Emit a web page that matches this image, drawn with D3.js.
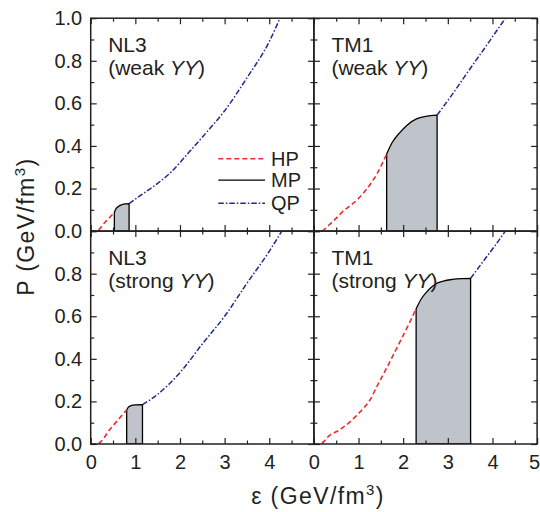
<!DOCTYPE html>
<html>
<head>
<meta charset="utf-8">
<script src="https://cdn.jsdelivr.net/npm/d3@7"></script>
<style>
  body { margin: 0; background: #fff; }
  svg { display: block; }
  text { font-family: "Liberation Sans", Arial, Helvetica, sans-serif; fill: #231f20; }
</style>
</head>
<body>
<svg id="chart" width="540" height="512"></svg>
<script>
// ---- axis ticks ----
const xMajor = [0, 1, 2, 3, 4, 5];
const xMinor = [0.5, 1.5, 2.5, 3.5, 4.5];
const yMajor = [0, 0.2, 0.4, 0.6, 0.8, 1.0];
const yMinor = [0.1, 0.3, 0.5, 0.7, 0.9];

// ---- panel captions ----
const panelModels = ["NL3", "TM1", "NL3", "TM1"];
const panelCouplings = ["weak", "weak", "strong", "strong"];

// ---- legend ----
const phaseNames = ["HP", "MP", "QP"];

// ---- equation of state, [epsilon (GeV/fm^3), P (GeV/fm^3)] ----
// NL3, weak YY
const nl3WeakHP = [[0, 0], [0.13, 0], [0.3, 0.037], [0.53, 0.087]];
const nl3WeakMP = [[0.53, 0.087], [0.56, 0.103], [0.62, 0.116], [0.7, 0.124], [0.78, 0.128], [0.86, 0.129]];
const nl3WeakQP = [[0.86, 0.129], [1.1, 0.165], [1.44, 0.215], [1.8, 0.277], [2.2, 0.37], [2.6, 0.465], [3.0, 0.565], [3.5, 0.72], [4.0, 0.89], [4.24, 1.0]];
// TM1, weak YY
const tm1WeakHP = [[0, 0], [0.135, 0], [0.43, 0.047], [0.66, 0.094], [0.96, 0.145], [1.18, 0.197], [1.41, 0.268], [1.63, 0.362]];
const tm1WeakMP = [[1.63, 0.362], [1.75, 0.415], [1.93, 0.464], [2.1, 0.5], [2.31, 0.528], [2.5, 0.539], [2.76, 0.545]];
const tm1WeakQP = [[2.76, 0.545], [3.1, 0.642], [3.43, 0.742], [3.8, 0.852], [4.29, 1.0]];
// NL3, strong YY
const nl3StrongHP = [[0, 0], [0.13, 0], [0.47, 0.079], [0.806, 0.16]];
const nl3StrongMP = [[0.806, 0.16], [0.84, 0.172], [0.9, 0.18], [1.0, 0.184], [1.16, 0.185]];
const nl3StrongQP = [[1.16, 0.185], [1.48, 0.23], [2.04, 0.345], [2.5, 0.47], [3.0, 0.6], [3.5, 0.755], [4.0, 0.905], [4.28, 1.0]];
// TM1, strong YY
const tm1StrongHP = [[0, 0], [0.135, 0], [0.36, 0.042], [0.55, 0.063], [0.73, 0.09], [0.92, 0.126], [1.11, 0.168], [1.26, 0.208], [1.41, 0.27], [1.63, 0.357], [1.82, 0.435], [2.01, 0.514], [2.16, 0.577], [2.29, 0.635]];
const tm1StrongMP = [[2.29, 0.635], [2.4, 0.68], [2.55, 0.72], [2.7, 0.748], [2.9, 0.765], [3.1, 0.773], [3.3, 0.777], [3.51, 0.778]];
const tm1StrongQP = [[3.51, 0.778], [3.8, 0.86], [4.05, 0.93], [4.29, 1.0]];

const panelCurves = [
  { hp: nl3WeakHP, mp: nl3WeakMP, qp: nl3WeakQP },
  { hp: tm1WeakHP, mp: tm1WeakMP, qp: tm1WeakQP },
  { hp: nl3StrongHP, mp: nl3StrongMP, qp: nl3StrongQP },
  { hp: tm1StrongHP, mp: tm1StrongMP, qp: tm1StrongQP }
];

// ---- layout ----
const plotLeft = 90.7, plotTop = 18.2, panelW = 223.2, panelH = 212.9;
const ink = "#231f20";
const red = "#ee2a2e", blue = "#1f2b8e", mpFill = "#bfc3ca";
const hpDash = "5,3", qpDash = "5.5,2,1.5,2";
const tickFont = 20;

const svg = d3.select("#chart");

const x = d3.scaleLinear().domain([0, 5]).range([0, panelW]);
const y = d3.scaleLinear().domain([0, 1]).range([panelH, 0]);

const line = d3.line().x(d => x(d[0])).y(d => y(d[1])).curve(d3.curveMonotoneX);
const area = d3.area().x(d => x(d[0])).y0(y(0)).y1(d => y(d[1])).curve(d3.curveMonotoneX);

const defs = svg.append("defs");
defs.append("clipPath").attr("id", "panel-clip")
  .append("rect").attr("x", 0).attr("y", 0).attr("width", panelW).attr("height", panelH);

function styleAxis(g) {
  g.select(".domain").remove();
  g.attr("font-family", null).attr("font-size", tickFont).attr("color", ink);
  g.selectAll(".tick line").attr("stroke-width", 1.2);
}

panelCurves.forEach((c, i) => {
  const col = i % 2, row = Math.floor(i / 2);
  const g = svg.append("g")
    .attr("transform", `translate(${plotLeft + col * panelW},${plotTop + row * panelH})`);

  // curves
  const plot = g.append("g").attr("clip-path", "url(#panel-clip)");
  plot.append("path").datum(c.mp).attr("d", area)
    .attr("fill", mpFill).attr("stroke", "#000").attr("stroke-width", 1.3)
    .attr("stroke-linejoin", "round");
  plot.append("path").datum(c.hp).attr("d", line)
    .attr("fill", "none").attr("stroke", red).attr("stroke-width", 1.6)
    .attr("stroke-dasharray", hpDash);
  plot.append("path").datum(c.qp).attr("d", line)
    .attr("fill", "none").attr("stroke", blue).attr("stroke-width", 1.5)
    .attr("stroke-dasharray", qpDash);

  // x ticks, bottom (labels on the lower row only) and top
  const xLabel = d => (row === 1 && !(col === 0 && d === 5)) ? d3.format("d")(d) : "";
  g.append("g").attr("transform", `translate(0,${panelH})`)
    .call(d3.axisBottom(x).tickValues(xMajor).tickSize(-6).tickPadding(10.5).tickFormat(xLabel))
    .call(styleAxis)
    .call(a => a.selectAll(".tick text").filter(d => d === 5).attr("x", -3));
  g.append("g").attr("transform", `translate(0,${panelH})`)
    .call(d3.axisBottom(x).tickValues(xMinor).tickSize(-3.5).tickFormat(""))
    .call(styleAxis);
  g.append("g")
    .call(d3.axisTop(x).tickValues(xMajor).tickSize(-6).tickFormat(""))
    .call(styleAxis);
  g.append("g")
    .call(d3.axisTop(x).tickValues(xMinor).tickSize(-3.5).tickFormat(""))
    .call(styleAxis);

  // y ticks, left (labels on the left column only) and right
  const yLabel = d => (col === 0 && !(row === 1 && d === 1)) ? d3.format(".1f")(d) : "";
  g.append("g")
    .call(d3.axisLeft(y).tickValues(yMajor).tickSize(-6).tickPadding(8.5).tickFormat(yLabel))
    .call(styleAxis);
  g.append("g")
    .call(d3.axisLeft(y).tickValues(yMinor).tickSize(-3.5).tickFormat(""))
    .call(styleAxis);
  g.append("g").attr("transform", `translate(${panelW},0)`)
    .call(d3.axisRight(y).tickValues(yMajor).tickSize(-6).tickFormat(""))
    .call(styleAxis);
  g.append("g").attr("transform", `translate(${panelW},0)`)
    .call(d3.axisRight(y).tickValues(yMinor).tickSize(-3.5).tickFormat(""))
    .call(styleAxis);

  // frame
  g.append("rect").attr("width", panelW).attr("height", panelH)
    .attr("fill", "none").attr("stroke", ink).attr("stroke-width", 1.5);

  // caption
  const cap = g.append("text").attr("x", 17.5).attr("y", 34).attr("font-size", 21);
  cap.append("tspan").text(panelModels[i]);
  const second = g.append("text").attr("x", 17.5).attr("y", 57).attr("font-size", 21);
  second.append("tspan").text(`(${panelCouplings[i]} `);
  second.append("tspan").attr("font-style", "italic").text("YY");
  second.append("tspan").text(")");

  // legend in the first panel
  if (i === 0) {
    const styles = [
      { stroke: red, dash: hpDash, w: 1.6 },
      { stroke: "#000", dash: null, w: 1.3 },
      { stroke: blue, dash: qpDash, w: 1.5 }
    ];
    const rowsY = [140.5, 162, 185];
    phaseNames.forEach((name, k) => {
      g.append("line")
        .attr("x1", 127.6).attr("x2", 174.3).attr("y1", rowsY[k]).attr("y2", rowsY[k])
        .attr("stroke", styles[k].stroke).attr("stroke-width", styles[k].w)
        .attr("stroke-dasharray", styles[k].dash);
      g.append("text").attr("x", 180.3).attr("y", rowsY[k]).attr("dy", "0.36em")
        .attr("font-size", 20).text(name);
    });
  }
});

// axis titles
const xt = svg.append("text").attr("x", 318).attr("y", 504)
  .attr("text-anchor", "middle").attr("font-size", 23).attr("letter-spacing", 1.4);
xt.append("tspan").text("\u03b5 (GeV/fm");
xt.append("tspan").attr("font-size", 15).attr("dy", -9).text("3");
xt.append("tspan").attr("dy", 9).text(")");

const yt = svg.append("text").attr("transform", "translate(33.5,226.7) rotate(-90)")
  .attr("text-anchor", "middle").attr("font-size", 23).attr("letter-spacing", 1.4);
yt.append("tspan").text("P (GeV/fm");
yt.append("tspan").attr("font-size", 15).attr("dy", -9).text("3");
yt.append("tspan").attr("dy", 9).text(")");
</script>
</body>
</html>
